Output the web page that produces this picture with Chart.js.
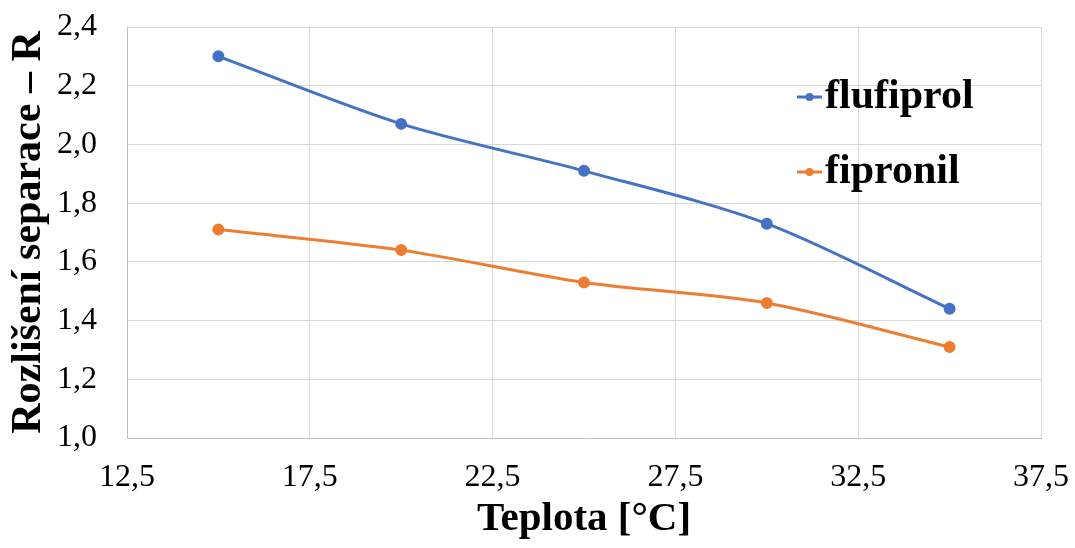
<!DOCTYPE html>
<html>
<head>
<meta charset="utf-8">
<script src="https://cdn.jsdelivr.net/npm/chart.js@4"></script>
<style>
  html, body { margin: 0; padding: 0; background: #fff; }
  #wrap { width: 1075px; height: 548px; }
</style>
</head>
<body>
<div id="wrap"><canvas id="myChart" width="1075" height="548"></canvas></div>
<script>
// data
const temperatures = [15, 20, 25, 30, 35];
const flufiprol = [2.30, 2.07, 1.91, 1.73, 1.44];
const fipronil = [1.71, 1.64, 1.53, 1.46, 1.31];
const seriesNames = ["flufiprol", "fipronil"];
const xTitle = "Teplota [°C]";
const yTitle = "Rozlišení separace – R";

const serif = "'Liberation Serif', 'Times New Roman', serif";

function toPoints(xs, ys) {
  return xs.map((x, i) => ({ x: x, y: ys[i] }));
}

// legend drawn inside the plot, right side
const insideLegend = {
  id: "insideLegend",
  afterDraw(chart) {
    const ctx = chart.ctx;
    const rows = [97, 172];
    ctx.save();
    chart.data.datasets.forEach((ds, i) => {
      const y = rows[i];
      ctx.strokeStyle = ds.borderColor;
      ctx.lineWidth = 3;
      ctx.beginPath();
      ctx.moveTo(797, y);
      ctx.lineTo(822, y);
      ctx.stroke();
      ctx.fillStyle = ds.borderColor;
      ctx.beginPath();
      ctx.arc(809.5, y, 4, 0, Math.PI * 2);
      ctx.fill();
      ctx.fillStyle = "#000";
      ctx.font = "bold 42px " + serif;
      ctx.textBaseline = "middle";
      ctx.fillText(ds.label, 825, y);
    });
    ctx.restore();
  }
};

function drawChart() {
  const ctx = document.getElementById("myChart").getContext("2d");

  window.myChartInstance = new Chart(ctx, {
    type: "line",
    data: {
      datasets: [
        {
          label: seriesNames[0],
          data: toPoints(temperatures, flufiprol),
          borderColor: "#4472C4",
          backgroundColor: "#4472C4",
          borderWidth: 3,
          pointRadius: 4.5,
          pointHoverRadius: 4.5,
          tension: 0.3,
        },
        {
          label: seriesNames[1],
          data: toPoints(temperatures, fipronil),
          borderColor: "#ED7D31",
          backgroundColor: "#ED7D31",
          borderWidth: 3,
          pointRadius: 4.5,
          pointHoverRadius: 4.5,
          tension: 0.3,
        },
      ],
    },
    options: {
      responsive: false,
      animation: false,
      layout: { padding: { top: 27, right: 34, left: 0, bottom: 0 } },
      plugins: {
        legend: { display: false },
        tooltip: { enabled: false },
      },
      scales: {
        x: {
          type: "linear",
          min: 12.5,
          max: 37.5,
          ticks: {
            stepSize: 5,
            color: "#000",
            padding: 20,
            font: { family: serif, size: 32 },
            callback: (v) => v.toFixed(1).replace(".", ","),
          },
          grid: { color: "#d9d9d9", lineWidth: 1, drawTicks: false },
          border: { color: "#bfbfbf" },
          title: {
            display: true,
            text: xTitle,
            color: "#000",
            font: { family: serif, size: 41, weight: "bold" },
          },
          afterFit: (scale) => {
            scale.height = 110;
            scale.paddingLeft = 0;
            scale.paddingRight = 0;
          },
        },
        y: {
          min: 1.0,
          max: 2.4,
          ticks: {
            stepSize: 0.2,
            color: "#000",
            padding: 30,
            font: { family: serif, size: 32 },
            callback: (v) => v.toFixed(1).replace(".", ","),
          },
          grid: { color: "#d9d9d9", lineWidth: 1, drawTicks: false },
          border: { color: "#bfbfbf" },
          title: {
            display: true,
            text: yTitle,
            color: "#000",
            font: { family: serif, size: 42, weight: "bold" },
          },
          afterFit: (scale) => {
            scale.width = 127;
            scale.paddingTop = 0;
            scale.paddingBottom = 0;
          },
        },
      },
    },
    plugins: [insideLegend],
  });
}

drawChart();
</script>
</body>
</html>
